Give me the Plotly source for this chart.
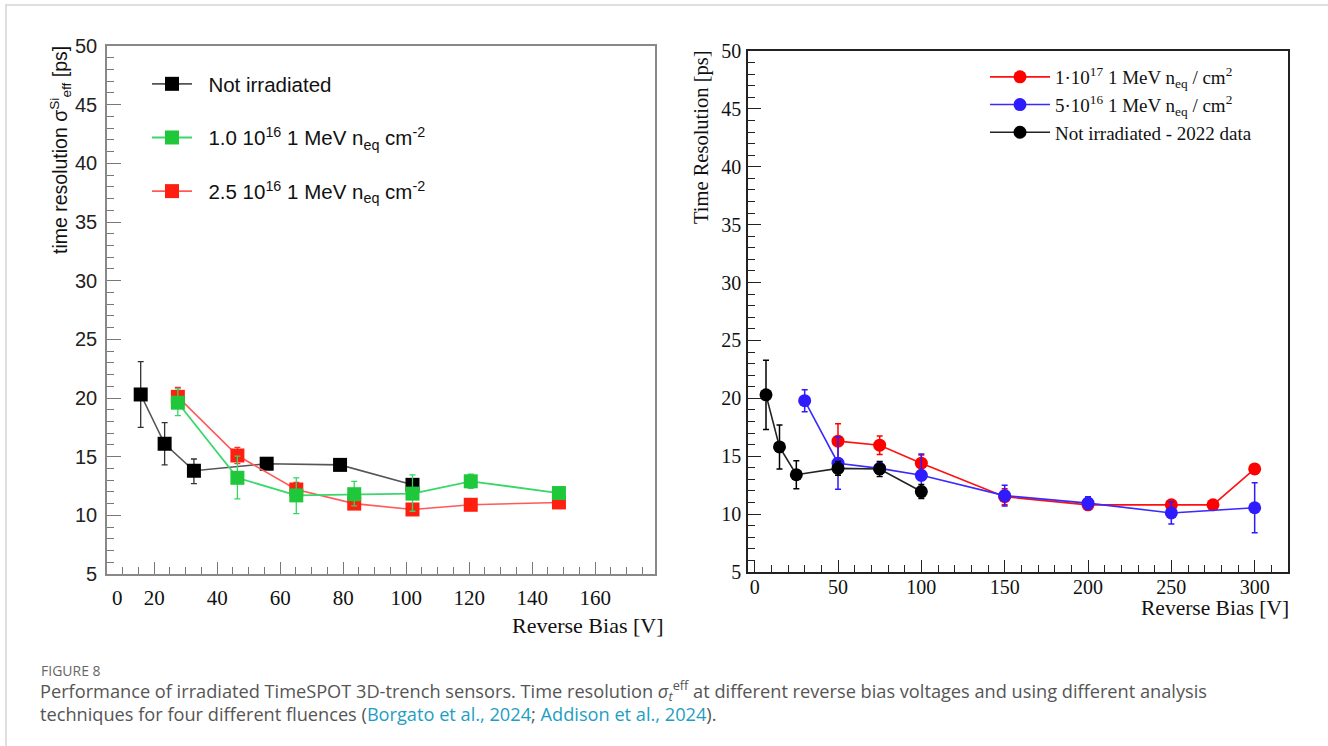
import plotly.graph_objects as go

# ---------------- data: left panel ----------------
left_black_x = [15.7, 23.3, 32.6, 55.7, 79.0, 102.0]
left_black_y = [20.3, 16.1, 13.8, 14.4, 14.3, 12.6]
left_black_eu = [2.8, 1.8, 1.0, 0.3, 0.4, 0.4]
left_black_ed = [2.8, 1.8, 1.1, 0.3, 0.4, 0.4]

left_green_x = [27.5, 46.4, 65.1, 83.5, 102.0, 120.5, 148.5]
left_green_y = [19.6, 13.2, 11.7, 11.8, 11.85, 12.9, 11.9]
left_green_eu = [1.2, 1.85, 1.5, 1.1, 1.6, 0.6, 0.25]
left_green_ed = [1.1, 1.8, 1.55, 1.0, 1.5, 0.6, 0.25]

left_red_x = [27.5, 46.4, 65.1, 83.5, 102.0, 120.5, 148.5]
left_red_y = [20.1, 15.1, 12.2, 11.0, 10.5, 10.9, 11.1]
left_red_e = [0.8, 0.7, 0.6, 0.3, 0.3, 0.3, 0.25]

left_xticks = [20, 40, 60, 80, 100, 120, 140, 160]
left_xticktext = ["20", "40", "60", "80", "100", "120", "140", "160"]
left_yticks = [5, 10, 15, 20, 25, 30, 35, 40, 45, 50]

# ---------------- data: right panel ----------------
right_red_x = [50, 75, 100, 150, 200, 250, 275, 300]
right_red_y = [16.3, 15.95, 14.4, 11.5, 10.8, 10.8, 10.8, 13.9]
right_red_e = [1.5, 0.8, 0.7, 0.7, 0.3, 0.3, 0.2, 0.4]

right_blue_x = [30, 50, 75, 100, 150, 200, 250, 300]
right_blue_y = [19.8, 14.4, 13.95, 13.35, 11.6, 10.95, 10.1, 10.55]
right_blue_e = [0.95, 2.25, 0.5, 1.85, 0.9, 0.55, 0.95, 2.15]

right_black_x = [6.8, 14.9, 25, 50, 75, 100]
right_black_y = [20.3, 15.8, 13.4, 13.95, 13.9, 11.95]
right_black_e = [3.0, 1.9, 1.2, 0.6, 0.65, 0.6]

right_xticks = [0, 50, 100, 150, 200, 250, 300]
right_yticks = [5, 10, 15, 20, 25, 30, 35, 40, 45, 50]

W, H = 1328, 746
SANS = "Liberation Sans, Arial, sans-serif"
SERIF = "Liberation Serif, Times New Roman, serif"
NB = "\u00a0\u00a0"

fig = go.Figure()

# ---- left traces (drawn black, red, green; legend black, green, red)
fig.add_trace(go.Scatter(
    x=left_black_x, y=left_black_y, mode="lines+markers", name=NB + "Not irradiated",
    xaxis="x", yaxis="y", legend="legend", legendgroup="a", legendrank=1,
    line=dict(color="#555555", width=1.6),
    marker=dict(symbol="square", size=14, color="#000000"),
    error_y=dict(type="data", array=left_black_eu, arrayminus=left_black_ed,
                 color="#333333", thickness=1.3, width=3)))
fig.add_trace(go.Scatter(
    x=left_red_x, y=left_red_y, mode="lines+markers",
    name=NB + "2.5 10<sup>16</sup> 1 MeV n<sub>eq</sub> cm<sup>-2</sup>",
    xaxis="x", yaxis="y", legend="legend", legendgroup="c", legendrank=3,
    line=dict(color="#ff5a5a", width=1.6),
    marker=dict(symbol="square", size=14, color="#ff1f10"),
    error_y=dict(type="data", array=left_red_e, color="#ff3030", thickness=1.3, width=3)))
fig.add_trace(go.Scatter(
    x=left_green_x, y=left_green_y, mode="lines+markers",
    name=NB + "1.0 10<sup>16</sup> 1 MeV n<sub>eq</sub> cm<sup>-2</sup>",
    xaxis="x", yaxis="y", legend="legend", legendgroup="b", legendrank=2,
    line=dict(color="#3ad86a", width=1.8),
    marker=dict(symbol="square", size=14, color="#1fc83a"),
    error_y=dict(type="data", array=left_green_eu, arrayminus=left_green_ed,
                 color="#2fd860", thickness=1.3, width=3)))

# ---- right traces
fig.add_trace(go.Scatter(
    x=right_red_x, y=right_red_y, mode="lines+markers",
    name="1·10<sup>17</sup> 1 MeV n<sub>eq</sub> / cm<sup>2</sup>",
    xaxis="x2", yaxis="y2", legend="legend2",
    line=dict(color="#ff1010", width=1.6),
    marker=dict(symbol="circle", size=13, color="#ff0000"),
    error_y=dict(type="data", array=right_red_e, color="#ff0000", thickness=1.5, width=3)))
fig.add_trace(go.Scatter(
    x=right_blue_x, y=right_blue_y, mode="lines+markers",
    name="5·10<sup>16</sup> 1 MeV n<sub>eq</sub> / cm<sup>2</sup>",
    xaxis="x2", yaxis="y2", legend="legend2",
    line=dict(color="#3a2aff", width=1.6),
    marker=dict(symbol="circle", size=13, color="#2e1cff"),
    error_y=dict(type="data", array=right_blue_e, color="#2e1cff", thickness=1.5, width=3)))
fig.add_trace(go.Scatter(
    x=right_black_x, y=right_black_y, mode="lines+markers",
    name="Not irradiated - 2022 data",
    xaxis="x2", yaxis="y2", legend="legend2",
    line=dict(color="#222222", width=1.6),
    marker=dict(symbol="circle", size=13, color="#000000"),
    error_y=dict(type="data", array=right_black_e, color="#000000", thickness=1.5, width=3)))

# domains in paper fractions from pixel frame positions
Lx0, Lx1, Ly0, Ly1 = 107 / W, 655 / W, 1 - 574 / H, 1 - 46 / H
Rx0, Rx1, Ry0, Ry1 = 748 / W, 1288 / W, 1 - 572 / H, 1 - 51 / H

RFONT = dict(family=SERIF, size=20, color="#111111")

fig.update_layout(
    width=W, height=H, margin=dict(l=0, r=0, t=0, b=0, pad=0, autoexpand=False),
    paper_bgcolor="white", plot_bgcolor="white",
    xaxis=dict(domain=[Lx0, Lx1], range=[5, 179], anchor="y",
               tickmode="array", tickvals=left_xticks, ticktext=left_xticktext,
               ticks="inside", ticklen=12, tickwidth=1.3, tickcolor="#777777",
               minor=dict(ticks="inside", ticklen=7, dtick=5, tick0=0, tickcolor="#777777", tickwidth=1.2),
               showline=True, linecolor="#888888", linewidth=1.6, mirror=True,
               showgrid=False, zeroline=False, ticklabelstandoff=4, automargin=False,
               tickfont=dict(family=SERIF, size=21, color="#111111")),
    yaxis=dict(domain=[Ly0, Ly1], range=[5, 50], anchor="x",
               tickmode="array", tickvals=left_yticks,
               ticks="inside", ticklen=14, tickwidth=1.3, tickcolor="#777777",
               minor=dict(ticks="inside", ticklen=7, dtick=1, tick0=0, tickcolor="#777777", tickwidth=1.2),
               showline=True, linecolor="#888888", linewidth=1.6, mirror=True,
               showgrid=False, zeroline=False, ticklabelstandoff=4, automargin=False,
               tickfont=dict(family=SANS, size=20, color="#222222")),
    xaxis2=dict(domain=[Rx0, Rx1], range=[-4, 320], anchor="y2",
                tickmode="array", tickvals=right_xticks,
                ticks="inside", ticklen=12, tickwidth=1.3, tickcolor="#222222",
                minor=dict(ticks="inside", ticklen=7, dtick=10, tick0=0, tickcolor="#222222", tickwidth=1.2),
                showline=True, linecolor="#222222", linewidth=1.6, mirror=True,
                showgrid=False, zeroline=False, ticklabelstandoff=-4, automargin=False,
                tickfont=RFONT),
    yaxis2=dict(domain=[Ry0, Ry1], range=[5, 50], anchor="x2",
                tickmode="array", tickvals=right_yticks,
                ticks="inside", ticklen=13, tickwidth=1.3, tickcolor="#222222",
                minor=dict(ticks="inside", ticklen=7, dtick=1, tick0=0, tickcolor="#222222", tickwidth=1.2),
                showline=True, linecolor="#222222", linewidth=1.6, mirror=True,
                showgrid=False, zeroline=False, ticklabelstandoff=1, automargin=False,
                tickfont=RFONT),
    legend=dict(x=147 / W, y=1 - 64 / H, xanchor="left", yanchor="top",
                bgcolor="rgba(0,0,0,0)", borderwidth=0, tracegroupgap=24,
                itemwidth=40, font=dict(family=SANS, size=20.5, color="#111111")),
    legend2=dict(x=985 / W, y=1 - 58 / H, xanchor="left", yanchor="top",
                 bgcolor="rgba(0,0,0,0)", borderwidth=0, tracegroupgap=0,
                 itemwidth=60, font=dict(family=SERIF, size=19, color="#111111")),
    showlegend=True,
)

ann = []
# "0" label on left axis (placed as in the reference)
ann.append(dict(x=8.3, y=1 - 598 / H, xref="x", yref="paper", text="0", showarrow=False,
                xanchor="center", yanchor="middle",
                font=dict(family=SERIF, size=21, color="#111111")))
# axis titles
ann.append(dict(x=666 / W, y=1 - 625 / H, xref="paper", yref="paper", xanchor="right", yanchor="middle",
                text="Reverse Bias [V]", showarrow=False,
                font=dict(family=SERIF, size=22, color="#111111")))
ann.append(dict(x=1291 / W, y=1 - 608 / H, xref="paper", yref="paper", xanchor="right", yanchor="middle",
                text="Reverse Bias [V]", showarrow=False,
                font=dict(family=SERIF, size=21.5, color="#111111")))
ann.append(dict(x=60 / W, y=1 - 44 / H, xref="paper", yref="paper", xanchor="center", yanchor="top",
                text="time resolution σ<sup>Si</sup><sub>eff</sub> [ps]", textangle=-90, showarrow=False,
                font=dict(family=SANS, size=19.5, color="#111111")))
ann.append(dict(x=701 / W, y=1 - 48 / H, xref="paper", yref="paper", xanchor="center", yanchor="top",
                text="Time Resolution [ps]", textangle=-90, showarrow=False,
                font=dict(family=SERIF, size=20.5, color="#111111")))
# caption
ann.append(dict(x=39 / W, y=1 - 670 / H, xref="paper", yref="paper", xanchor="left", yanchor="middle",
                text="FIGURE 8", showarrow=False,
                font=dict(family="Open Sans, Noto Sans, sans-serif", size=14, color="#666666")))
link = "color:#1e9ec2"
ann.append(dict(x=38 / W, y=1 - 701 / H, xref="paper", yref="paper", xanchor="left", yanchor="middle",
                align="left", showarrow=False,
                text=("Performance of irradiated TimeSPOT 3D-trench sensors. Time resolution "
                      "<i>σ</i><sub><i>t</i></sub><sup>eff</sup> at different reverse bias voltages and using different analysis<br>"
                      "techniques for four different fluences ("
                      f"<span style='{link}'>Borgato et al., 2024</span>; "
                      f"<span style='{link}'>Addison et al., 2024</span>)."),
                font=dict(family="Open Sans, Noto Sans, sans-serif", size=18.2, color="#555555")))
fig.update_layout(annotations=ann)

# light page border (top and left)
fig.add_shape(type="line", xref="paper", yref="paper", x0=5 / W, x1=1, y0=1 - 5 / H, y1=1 - 5 / H,
              line=dict(color="#d4d4d4", width=1.5))
fig.add_shape(type="line", xref="paper", yref="paper", x0=6 / W, x1=6 / W, y0=0, y1=1 - 5 / H,
              line=dict(color="#d4d4d4", width=1.5))

fig.write_html("out.html")
